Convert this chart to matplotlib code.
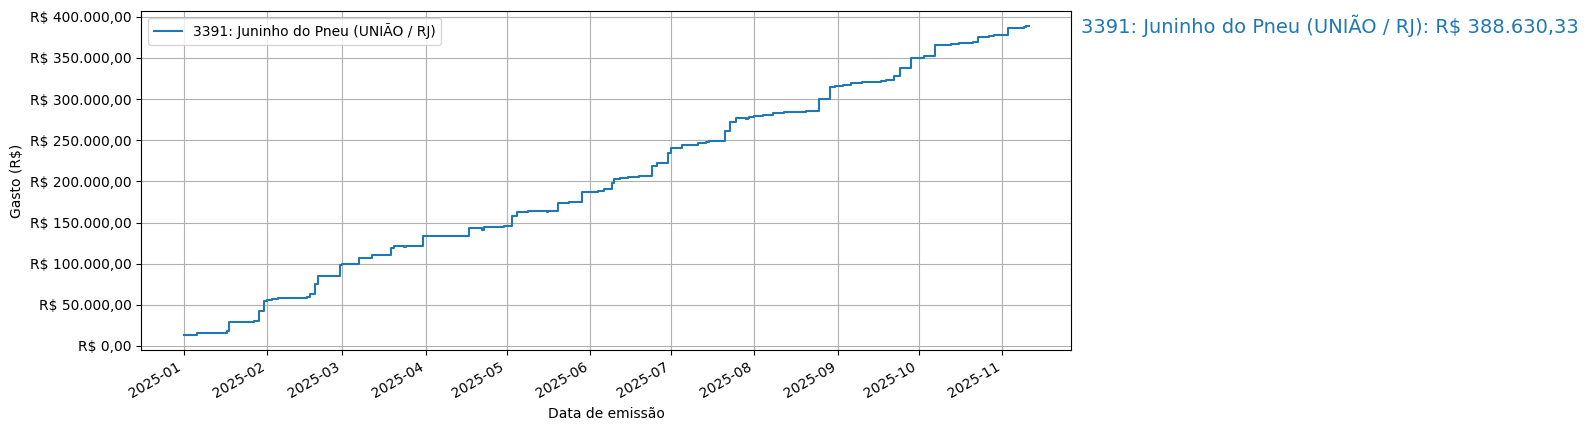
import matplotlib
matplotlib.use("Agg")
import matplotlib.pyplot as plt
import matplotlib.dates as mdates
from matplotlib.ticker import FuncFormatter, MultipleLocator
import pandas as pd

# Data (cumulative spending, R$)
dates = [
    "2025-01-01", "2025-01-06", "2025-01-17", "2025-01-18", "2025-01-27",
    "2025-01-29", "2025-01-31", "2025-02-01", "2025-02-03", "2025-02-05",
    "2025-02-16", "2025-02-17", "2025-02-19", "2025-02-20", "2025-02-28",
    "2025-03-01", "2025-03-07", "2025-03-12", "2025-03-19", "2025-03-20",
    "2025-03-24 00:00", "2025-03-24 12:00",
    "2025-03-31", "2025-04-17",
    "2025-04-22 00:00", "2025-04-22 12:00",
    "2025-04-30", "2025-05-03", "2025-05-05", "2025-05-09",
    "2025-05-16 00:00", "2025-05-16 12:00",
    "2025-05-20", "2025-05-24", "2025-05-29", "2025-06-04", "2025-06-06",
    "2025-06-09", "2025-06-10", "2025-06-12", "2025-06-15", "2025-06-19",
    "2025-06-24", "2025-06-26", "2025-06-30", "2025-07-01", "2025-07-05",
    "2025-07-11", "2025-07-14", "2025-07-15", "2025-07-21", "2025-07-23",
    "2025-07-25", "2025-07-29 00:00", "2025-07-29 12:00",
    "2025-07-30", "2025-08-01", "2025-08-04", "2025-08-08",
    "2025-08-12", "2025-08-20", "2025-08-25", "2025-08-29", "2025-08-31",
    "2025-09-03", "2025-09-06", "2025-09-10", "2025-09-17", "2025-09-19",
    "2025-09-22", "2025-09-24", "2025-09-28", "2025-10-03", "2025-10-07",
    "2025-10-13", "2025-10-16", "2025-10-21", "2025-10-23", "2025-10-27",
    "2025-10-29", "2025-11-03", "2025-11-09", "2025-11-10", "2025-11-11",
]
gasto_acumulado = [
    13500, 15400, 17800, 28800, 30000,
    42200, 54400, 56100, 57300, 58500,
    60100, 63000, 75100, 84900, 98800,
    100000, 106800, 110500, 119000, 121500,
    120300, 121500,
    133700, 143400,
    140500, 144600,
    145900, 158000, 162900, 164100,
    162900, 164100,
    173900, 175100, 187300, 188500, 191000,
    198300, 202800, 204000, 205200, 206500,
    218700, 222700, 234900, 241000, 244600,
    246300, 248300, 249500, 261700, 272700,
    277600, 275800, 277600,
    278800, 280000, 281200, 282900,
    284900, 286100, 300400, 314100, 315400,
    317100, 319000, 320200, 321500, 322700,
    327600, 337800, 350400, 352000, 365400,
    366600, 368300, 369900, 375100, 376800,
    378000, 386600, 387400, 388200, 388630.33,
]

serie_label = "3391: Juninho do Pneu (UNIÃO / RJ)"
x_label = "Data de emissão"
y_label = "Gasto (R\\$)"


def brl(v, decimals=2):
    s = f"{v:,.{decimals}f}"
    return s.replace(",", "X").replace(".", ",").replace("X", ".")


x = pd.to_datetime(dates, format="mixed")

fig = plt.figure(figsize=(15.87, 4.30), dpi=100)
ax = fig.add_axes([0.0890, 0.1853, 0.5861, 0.7898])

ax.plot(x, gasto_acumulado, drawstyle="steps-post", color="#1f77b4",
        linewidth=1.5, label=serie_label)

ax.yaxis.set_major_locator(MultipleLocator(50000))
ax.yaxis.set_major_formatter(FuncFormatter(lambda v, p: "R\\$ " + brl(v)))
ax.xaxis.set_major_locator(mdates.MonthLocator())
ax.xaxis.set_major_formatter(mdates.DateFormatter("%Y-%m"))
plt.setp(ax.get_xticklabels(), rotation=30, ha="right")

ax.set_xlabel(x_label)
ax.set_ylabel(y_label)
ax.grid(True)
ax.legend(loc="upper left")

final_val = gasto_acumulado[-1]
ax.text(1.01, final_val, f"{serie_label}: R\\$ {brl(final_val)}",
        transform=ax.get_yaxis_transform(), color="#1f77b4",
        fontsize=14, va="center", ha="left")

fig.savefig("out.png", dpi=100)
